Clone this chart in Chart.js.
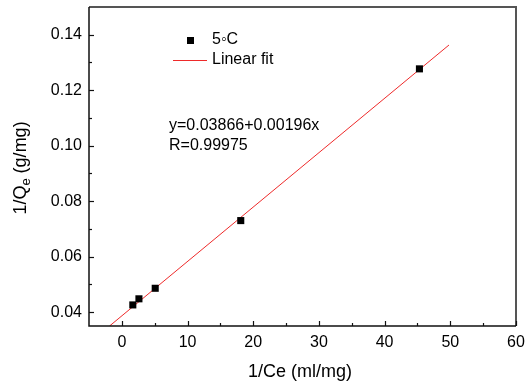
<!DOCTYPE html>
<html><head><meta charset="utf-8">
<script src="https://cdn.jsdelivr.net/npm/chart.js@4"></script>
<style>html,body{margin:0;padding:0;background:#fff}#c{display:block}</style>
</head><body>
<canvas id="c" width="525" height="385"></canvas>
<script>
const xValues = [1.67, 2.6, 5.08, 18.1, 45.3];
const yValues = [0.0426, 0.0448, 0.0486, 0.0730, 0.1277];
const fitX = [-1.87, 49.8];
const fitY = [0.0350, 0.1363];
const xTicks = [0, 10, 20, 30, 40, 50, 60];
const yTicks = [0.04, 0.06, 0.08, 0.10, 0.12, 0.14];
const xMinor = [5, 15, 25, 35, 45, 55];
const yMinor = [0.05, 0.07, 0.09, 0.11, 0.13];
const seriesLabel = '5\u25E6C';
const fitLabel = 'Linear fit';
const eqText = 'y=0.03866+0.00196x';
const rText = 'R=0.99975';
const xTitle = '1/Ce (ml/mg)';

const FONT = '"Liberation Sans", Arial, sans-serif';
const pts = xValues.map((x, i) => ({x, y: yValues[i]}));
const fit = fitX.map((x, i) => ({x, y: fitY[i]}));

const deco = {
  id: 'deco',
  afterDraw(chart) {
    const ctx = chart.ctx, a = chart.chartArea;
    const xs = chart.scales.x, ys = chart.scales.y;
    ctx.save();
    ctx.strokeStyle = '#555'; ctx.lineWidth = 2;
    ctx.beginPath(); ctx.moveTo(a.left, a.top); ctx.lineTo(a.right, a.top); ctx.lineTo(a.right, a.bottom); ctx.stroke();
    ctx.strokeStyle = '#111'; ctx.lineWidth = 1.5;
    ctx.beginPath(); ctx.moveTo(a.left, a.top); ctx.lineTo(a.left, a.bottom); ctx.lineTo(a.right, a.bottom); ctx.stroke();
    ctx.lineWidth = 1.2;
    const tk = (arr, len, isX) => arr.forEach(v => {
      ctx.beginPath();
      if (isX) { const p = Math.round(xs.getPixelForValue(v)) + 0.5; ctx.moveTo(p, a.bottom); ctx.lineTo(p, a.bottom - len); }
      else { const p = Math.round(ys.getPixelForValue(v)) + 0.5; ctx.moveTo(a.left, p); ctx.lineTo(a.left + len, p); }
      ctx.stroke();
    });
    tk(xTicks, 5, true); tk(xMinor, 3, true); tk(yTicks, 5, false); tk(yMinor, 3, false);
    ctx.fillStyle = '#000';
    ctx.fillRect(187, 37, 7, 7);
    ctx.strokeStyle = '#ee2a2a'; ctx.lineWidth = 1;
    ctx.beginPath(); ctx.moveTo(173, 60.5); ctx.lineTo(207, 60.5); ctx.stroke();
    ctx.font = '16px ' + FONT; ctx.textBaseline = 'middle'; ctx.textAlign = 'left';
    ctx.fillText(seriesLabel, 212, 40);
    ctx.fillText(fitLabel, 212, 60);
    ctx.fillText(eqText, 169, 126);
    ctx.fillText(rText, 169, 146);
    ctx.font = '18px ' + FONT; ctx.textAlign = 'center';
    ctx.fillText(xTitle, 300, 372);
    ctx.translate(21, 168); ctx.rotate(-Math.PI / 2);
    const p1 = '1/Q', sub = 'e', p2 = ' (g/mg)';
    ctx.font = '18px ' + FONT; const w1 = ctx.measureText(p1).width, w3 = ctx.measureText(p2).width;
    ctx.font = '13px ' + FONT; const w2 = ctx.measureText(sub).width;
    let x0 = -(w1 + w2 + w3) / 2;
    ctx.textAlign = 'left';
    ctx.font = '18px ' + FONT; ctx.fillText(p1, x0, 0);
    ctx.font = '13px ' + FONT; ctx.fillText(sub, x0 + w1, 5);
    ctx.font = '18px ' + FONT; ctx.fillText(p2, x0 + w1 + w2, 0);
    ctx.restore();
  }
};

const noPad = s => { s.paddingLeft = 0; s.paddingRight = 0; s.paddingTop = 0; s.paddingBottom = 0; };

new Chart(document.getElementById('c'), {
  type: 'scatter',
  data: {
    datasets: [
      { label: fitLabel, type: 'line', data: fit, borderColor: '#ee2a2a', borderWidth: 1, pointRadius: 0, fill: false, order: 2 },
      { label: seriesLabel, data: pts, pointStyle: 'rect', pointRadius: 5, backgroundColor: '#000', borderColor: '#000', borderWidth: 0, order: 1 }
    ]
  },
  options: {
    responsive: false, animation: false,
    layout: { padding: { top: 7, right: 9, left: 0, bottom: 0 } },
    plugins: { legend: { display: false }, tooltip: { enabled: false } },
    scales: {
      x: {
        type: 'linear', min: -5, max: 60,
        afterBuildTicks: s => { s.ticks = xTicks.map(v => ({value: v})); },
        afterFit: s => { s.height = 59; noPad(s); },
        grid: { display: false, drawTicks: false }, border: { display: false },
        ticks: { color: '#000', font: { family: FONT, size: 16 }, padding: 7, maxRotation: 0, autoSkip: false }
      },
      y: {
        type: 'linear', min: 0.035, max: 0.15,
        afterBuildTicks: s => { s.ticks = yTicks.map(v => ({value: v})); },
        afterFit: s => { s.width = 89; noPad(s); },
        grid: { display: false, drawTicks: false }, border: { display: false },
        ticks: { color: '#000', font: { family: FONT, size: 16 }, padding: 7, autoSkip: false, callback: v => v.toFixed(2) }
      }
    }
  },
  plugins: [deco]
});
</script>
</body></html>
